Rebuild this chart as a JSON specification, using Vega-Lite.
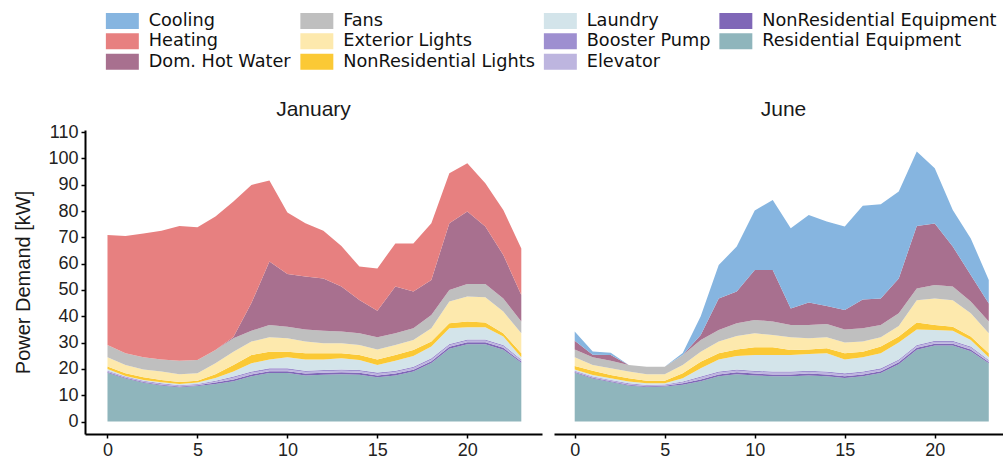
{
  "$schema": "https://vega.github.io/schema/vega-lite/v6.json",
  "autosize": {"type": "pad"},
  "padding": {"left": 13, "top": 12, "right": 0, "bottom": 3},
  "background": "white",
  "data": {"values": [
{"month":"January","hour":0,"cat":"Residential Equipment","kW":18.5},{"month":"January","hour":0,"cat":"NonResidential Equipment","kW":0.3},{"month":"January","hour":0,"cat":"Elevator","kW":0.2},{"month":"January","hour":0,"cat":"Booster Pump","kW":0.3},{"month":"January","hour":0,"cat":"Laundry","kW":0.7},{"month":"January","hour":0,"cat":"NonResidential Lights","kW":0.9},{"month":"January","hour":0,"cat":"Exterior Lights","kW":3.5},{"month":"January","hour":0,"cat":"Fans","kW":4.7},{"month":"January","hour":0,"cat":"Dom. Hot Water","kW":0},{"month":"January","hour":0,"cat":"Heating","kW":41.8},
{"month":"January","hour":1,"cat":"Residential Equipment","kW":16.3},{"month":"January","hour":1,"cat":"NonResidential Equipment","kW":0.3},{"month":"January","hour":1,"cat":"Elevator","kW":0.2},{"month":"January","hour":1,"cat":"Booster Pump","kW":0.3},{"month":"January","hour":1,"cat":"Laundry","kW":0.2},{"month":"January","hour":1,"cat":"NonResidential Lights","kW":1.0},{"month":"January","hour":1,"cat":"Exterior Lights","kW":3.2},{"month":"January","hour":1,"cat":"Fans","kW":4.4},{"month":"January","hour":1,"cat":"Dom. Hot Water","kW":0},{"month":"January","hour":1,"cat":"Heating","kW":44.6},
{"month":"January","hour":2,"cat":"Residential Equipment","kW":14.7},{"month":"January","hour":2,"cat":"NonResidential Equipment","kW":0.3},{"month":"January","hour":2,"cat":"Elevator","kW":0.2},{"month":"January","hour":2,"cat":"Booster Pump","kW":0.3},{"month":"January","hour":2,"cat":"Laundry","kW":0.3},{"month":"January","hour":2,"cat":"NonResidential Lights","kW":1.0},{"month":"January","hour":2,"cat":"Exterior Lights","kW":3.0},{"month":"January","hour":2,"cat":"Fans","kW":4.6},{"month":"January","hour":2,"cat":"Dom. Hot Water","kW":0},{"month":"January","hour":2,"cat":"Heating","kW":47.1},
{"month":"January","hour":3,"cat":"Residential Equipment","kW":13.7},{"month":"January","hour":3,"cat":"NonResidential Equipment","kW":0.3},{"month":"January","hour":3,"cat":"Elevator","kW":0.2},{"month":"January","hour":3,"cat":"Booster Pump","kW":0.3},{"month":"January","hour":3,"cat":"Laundry","kW":0.4},{"month":"January","hour":3,"cat":"NonResidential Lights","kW":0.9},{"month":"January","hour":3,"cat":"Exterior Lights","kW":3.2},{"month":"January","hour":3,"cat":"Fans","kW":4.6},{"month":"January","hour":3,"cat":"Dom. Hot Water","kW":0},{"month":"January","hour":3,"cat":"Heating","kW":48.9},
{"month":"January","hour":4,"cat":"Residential Equipment","kW":13.0},{"month":"January","hour":4,"cat":"NonResidential Equipment","kW":0.3},{"month":"January","hour":4,"cat":"Elevator","kW":0.2},{"month":"January","hour":4,"cat":"Booster Pump","kW":0.3},{"month":"January","hour":4,"cat":"Laundry","kW":0.5},{"month":"January","hour":4,"cat":"NonResidential Lights","kW":0.7},{"month":"January","hour":4,"cat":"Exterior Lights","kW":3.0},{"month":"January","hour":4,"cat":"Fans","kW":5.1},{"month":"January","hour":4,"cat":"Dom. Hot Water","kW":0},{"month":"January","hour":4,"cat":"Heating","kW":51.2},
{"month":"January","hour":5,"cat":"Residential Equipment","kW":13.5},{"month":"January","hour":5,"cat":"NonResidential Equipment","kW":0.3},{"month":"January","hour":5,"cat":"Elevator","kW":0.2},{"month":"January","hour":5,"cat":"Booster Pump","kW":0.3},{"month":"January","hour":5,"cat":"Laundry","kW":0.5},{"month":"January","hour":5,"cat":"NonResidential Lights","kW":0.7},{"month":"January","hour":5,"cat":"Exterior Lights","kW":2.8},{"month":"January","hour":5,"cat":"Fans","kW":5.1},{"month":"January","hour":5,"cat":"Dom. Hot Water","kW":0},{"month":"January","hour":5,"cat":"Heating","kW":50.4},
{"month":"January","hour":6,"cat":"Residential Equipment","kW":14.3},{"month":"January","hour":6,"cat":"NonResidential Equipment","kW":0.5},{"month":"January","hour":6,"cat":"Elevator","kW":0.3},{"month":"January","hour":6,"cat":"Booster Pump","kW":0.4},{"month":"January","hour":6,"cat":"Laundry","kW":1.0},{"month":"January","hour":6,"cat":"NonResidential Lights","kW":1.5},{"month":"January","hour":6,"cat":"Exterior Lights","kW":4.1},{"month":"January","hour":6,"cat":"Fans","kW":5.1},{"month":"January","hour":6,"cat":"Dom. Hot Water","kW":0},{"month":"January","hour":6,"cat":"Heating","kW":50.7},
{"month":"January","hour":7,"cat":"Residential Equipment","kW":15.3},{"month":"January","hour":7,"cat":"NonResidential Equipment","kW":0.7},{"month":"January","hour":7,"cat":"Elevator","kW":0.6},{"month":"January","hour":7,"cat":"Booster Pump","kW":0.5},{"month":"January","hour":7,"cat":"Laundry","kW":1.9},{"month":"January","hour":7,"cat":"NonResidential Lights","kW":2.5},{"month":"January","hour":7,"cat":"Exterior Lights","kW":5.0},{"month":"January","hour":7,"cat":"Fans","kW":5.1},{"month":"January","hour":7,"cat":"Dom. Hot Water","kW":0.5},{"month":"January","hour":7,"cat":"Heating","kW":51.5},
{"month":"January","hour":8,"cat":"Residential Equipment","kW":17.2},{"month":"January","hour":8,"cat":"NonResidential Equipment","kW":0.7},{"month":"January","hour":8,"cat":"Elevator","kW":0.6},{"month":"January","hour":8,"cat":"Booster Pump","kW":0.5},{"month":"January","hour":8,"cat":"Laundry","kW":3.1},{"month":"January","hour":8,"cat":"NonResidential Lights","kW":3.2},{"month":"January","hour":8,"cat":"Exterior Lights","kW":5.1},{"month":"January","hour":8,"cat":"Fans","kW":4.1},{"month":"January","hour":8,"cat":"Dom. Hot Water","kW":10.5},{"month":"January","hour":8,"cat":"Heating","kW":44.9},
{"month":"January","hour":9,"cat":"Residential Equipment","kW":18.4},{"month":"January","hour":9,"cat":"NonResidential Equipment","kW":0.7},{"month":"January","hour":9,"cat":"Elevator","kW":0.6},{"month":"January","hour":9,"cat":"Booster Pump","kW":0.5},{"month":"January","hour":9,"cat":"Laundry","kW":3.4},{"month":"January","hour":9,"cat":"NonResidential Lights","kW":2.9},{"month":"January","hour":9,"cat":"Exterior Lights","kW":5.5},{"month":"January","hour":9,"cat":"Fans","kW":4.7},{"month":"January","hour":9,"cat":"Dom. Hot Water","kW":24.1},{"month":"January","hour":9,"cat":"Heating","kW":30.8},
{"month":"January","hour":10,"cat":"Residential Equipment","kW":18.4},{"month":"January","hour":10,"cat":"NonResidential Equipment","kW":0.7},{"month":"January","hour":10,"cat":"Elevator","kW":0.6},{"month":"January","hour":10,"cat":"Booster Pump","kW":0.5},{"month":"January","hour":10,"cat":"Laundry","kW":4.2},{"month":"January","hour":10,"cat":"NonResidential Lights","kW":2.1},{"month":"January","hour":10,"cat":"Exterior Lights","kW":5.1},{"month":"January","hour":10,"cat":"Fans","kW":4.4},{"month":"January","hour":10,"cat":"Dom. Hot Water","kW":20.1},{"month":"January","hour":10,"cat":"Heating","kW":23.3},
{"month":"January","hour":11,"cat":"Residential Equipment","kW":17.5},{"month":"January","hour":11,"cat":"NonResidential Equipment","kW":0.7},{"month":"January","hour":11,"cat":"Elevator","kW":0.6},{"month":"January","hour":11,"cat":"Booster Pump","kW":0.5},{"month":"January","hour":11,"cat":"Laundry","kW":4.3},{"month":"January","hour":11,"cat":"NonResidential Lights","kW":2.3},{"month":"January","hour":11,"cat":"Exterior Lights","kW":4.5},{"month":"January","hour":11,"cat":"Fans","kW":4.6},{"month":"January","hour":11,"cat":"Dom. Hot Water","kW":20.1},{"month":"January","hour":11,"cat":"Heating","kW":20.3},
{"month":"January","hour":12,"cat":"Residential Equipment","kW":17.8},{"month":"January","hour":12,"cat":"NonResidential Equipment","kW":0.7},{"month":"January","hour":12,"cat":"Elevator","kW":0.6},{"month":"January","hour":12,"cat":"Booster Pump","kW":0.5},{"month":"January","hour":12,"cat":"Laundry","kW":4.0},{"month":"January","hour":12,"cat":"NonResidential Lights","kW":2.3},{"month":"January","hour":12,"cat":"Exterior Lights","kW":3.8},{"month":"January","hour":12,"cat":"Fans","kW":4.8},{"month":"January","hour":12,"cat":"Dom. Hot Water","kW":19.9},{"month":"January","hour":12,"cat":"Heating","kW":18.1},
{"month":"January","hour":13,"cat":"Residential Equipment","kW":18.0},{"month":"January","hour":13,"cat":"NonResidential Equipment","kW":0.7},{"month":"January","hour":13,"cat":"Elevator","kW":0.6},{"month":"January","hour":13,"cat":"Booster Pump","kW":0.5},{"month":"January","hour":13,"cat":"Laundry","kW":4.2},{"month":"January","hour":13,"cat":"NonResidential Lights","kW":1.9},{"month":"January","hour":13,"cat":"Exterior Lights","kW":3.8},{"month":"January","hour":13,"cat":"Fans","kW":4.5},{"month":"January","hour":13,"cat":"Dom. Hot Water","kW":17.1},{"month":"January","hour":13,"cat":"Heating","kW":15.4},
{"month":"January","hour":14,"cat":"Residential Equipment","kW":17.8},{"month":"January","hour":14,"cat":"NonResidential Equipment","kW":0.7},{"month":"January","hour":14,"cat":"Elevator","kW":0.6},{"month":"January","hour":14,"cat":"Booster Pump","kW":0.5},{"month":"January","hour":14,"cat":"Laundry","kW":3.8},{"month":"January","hour":14,"cat":"NonResidential Lights","kW":1.9},{"month":"January","hour":14,"cat":"Exterior Lights","kW":3.8},{"month":"January","hour":14,"cat":"Fans","kW":4.4},{"month":"January","hour":14,"cat":"Dom. Hot Water","kW":12.7},{"month":"January","hour":14,"cat":"Heating","kW":12.7},
{"month":"January","hour":15,"cat":"Residential Equipment","kW":16.8},{"month":"January","hour":15,"cat":"NonResidential Equipment","kW":0.7},{"month":"January","hour":15,"cat":"Elevator","kW":0.6},{"month":"January","hour":15,"cat":"Booster Pump","kW":0.5},{"month":"January","hour":15,"cat":"Laundry","kW":2.9},{"month":"January","hour":15,"cat":"NonResidential Lights","kW":2.1},{"month":"January","hour":15,"cat":"Exterior Lights","kW":3.8},{"month":"January","hour":15,"cat":"Fans","kW":4.6},{"month":"January","hour":15,"cat":"Dom. Hot Water","kW":10.1},{"month":"January","hour":15,"cat":"Heating","kW":16.1},
{"month":"January","hour":16,"cat":"Residential Equipment","kW":17.5},{"month":"January","hour":16,"cat":"NonResidential Equipment","kW":0.7},{"month":"January","hour":16,"cat":"Elevator","kW":0.6},{"month":"January","hour":16,"cat":"Booster Pump","kW":0.5},{"month":"January","hour":16,"cat":"Laundry","kW":3.8},{"month":"January","hour":16,"cat":"NonResidential Lights","kW":2.2},{"month":"January","hour":16,"cat":"Exterior Lights","kW":3.8},{"month":"January","hour":16,"cat":"Fans","kW":4.4},{"month":"January","hour":16,"cat":"Dom. Hot Water","kW":17.8},{"month":"January","hour":16,"cat":"Heating","kW":16.4},
{"month":"January","hour":17,"cat":"Residential Equipment","kW":19.0},{"month":"January","hour":17,"cat":"NonResidential Equipment","kW":0.7},{"month":"January","hour":17,"cat":"Elevator","kW":0.6},{"month":"January","hour":17,"cat":"Booster Pump","kW":0.5},{"month":"January","hour":17,"cat":"Laundry","kW":4.1},{"month":"January","hour":17,"cat":"NonResidential Lights","kW":2.3},{"month":"January","hour":17,"cat":"Exterior Lights","kW":3.8},{"month":"January","hour":17,"cat":"Fans","kW":4.4},{"month":"January","hour":17,"cat":"Dom. Hot Water","kW":14.0},{"month":"January","hour":17,"cat":"Heating","kW":18.3},
{"month":"January","hour":18,"cat":"Residential Equipment","kW":22.2},{"month":"January","hour":18,"cat":"NonResidential Equipment","kW":0.7},{"month":"January","hour":18,"cat":"Elevator","kW":0.6},{"month":"January","hour":18,"cat":"Booster Pump","kW":0.5},{"month":"January","hour":18,"cat":"Laundry","kW":4.5},{"month":"January","hour":18,"cat":"NonResidential Lights","kW":1.9},{"month":"January","hour":18,"cat":"Exterior Lights","kW":5.0},{"month":"January","hour":18,"cat":"Fans","kW":5.1},{"month":"January","hour":18,"cat":"Dom. Hot Water","kW":13.3},{"month":"January","hour":18,"cat":"Heating","kW":21.6},
{"month":"January","hour":19,"cat":"Residential Equipment","kW":27.7},{"month":"January","hour":19,"cat":"NonResidential Equipment","kW":0.7},{"month":"January","hour":19,"cat":"Elevator","kW":0.6},{"month":"January","hour":19,"cat":"Booster Pump","kW":0.5},{"month":"January","hour":19,"cat":"Laundry","kW":5.9},{"month":"January","hour":19,"cat":"NonResidential Lights","kW":1.9},{"month":"January","hour":19,"cat":"Exterior Lights","kW":8.3},{"month":"January","hour":19,"cat":"Fans","kW":4.4},{"month":"January","hour":19,"cat":"Dom. Hot Water","kW":25.4},{"month":"January","hour":19,"cat":"Heating","kW":19.0},
{"month":"January","hour":20,"cat":"Residential Equipment","kW":29.4},{"month":"January","hour":20,"cat":"NonResidential Equipment","kW":0.7},{"month":"January","hour":20,"cat":"Elevator","kW":0.6},{"month":"January","hour":20,"cat":"Booster Pump","kW":0.5},{"month":"January","hour":20,"cat":"Laundry","kW":4.6},{"month":"January","hour":20,"cat":"NonResidential Lights","kW":2.2},{"month":"January","hour":20,"cat":"Exterior Lights","kW":9.5},{"month":"January","hour":20,"cat":"Fans","kW":4.8},{"month":"January","hour":20,"cat":"Dom. Hot Water","kW":27.5},{"month":"January","hour":20,"cat":"Heating","kW":18.4},
{"month":"January","hour":21,"cat":"Residential Equipment","kW":29.4},{"month":"January","hour":21,"cat":"NonResidential Equipment","kW":0.7},{"month":"January","hour":21,"cat":"Elevator","kW":0.6},{"month":"January","hour":21,"cat":"Booster Pump","kW":0.5},{"month":"January","hour":21,"cat":"Laundry","kW":4.6},{"month":"January","hour":21,"cat":"NonResidential Lights","kW":1.8},{"month":"January","hour":21,"cat":"Exterior Lights","kW":9.6},{"month":"January","hour":21,"cat":"Fans","kW":5.1},{"month":"January","hour":21,"cat":"Dom. Hot Water","kW":21.8},{"month":"January","hour":21,"cat":"Heating","kW":16.5},
{"month":"January","hour":22,"cat":"Residential Equipment","kW":27.3},{"month":"January","hour":22,"cat":"NonResidential Equipment","kW":0.7},{"month":"January","hour":22,"cat":"Elevator","kW":0.6},{"month":"January","hour":22,"cat":"Booster Pump","kW":0.5},{"month":"January","hour":22,"cat":"Laundry","kW":3.2},{"month":"January","hour":22,"cat":"NonResidential Lights","kW":1.2},{"month":"January","hour":22,"cat":"Exterior Lights","kW":8.3},{"month":"January","hour":22,"cat":"Fans","kW":5.0},{"month":"January","hour":22,"cat":"Dom. Hot Water","kW":16.5},{"month":"January","hour":22,"cat":"Heating","kW":17.1},
{"month":"January","hour":23,"cat":"Residential Equipment","kW":22.3},{"month":"January","hour":23,"cat":"NonResidential Equipment","kW":0.5},{"month":"January","hour":23,"cat":"Elevator","kW":0.4},{"month":"January","hour":23,"cat":"Booster Pump","kW":0.4},{"month":"January","hour":23,"cat":"Laundry","kW":0.8},{"month":"January","hour":23,"cat":"NonResidential Lights","kW":1.5},{"month":"January","hour":23,"cat":"Exterior Lights","kW":7.6},{"month":"January","hour":23,"cat":"Fans","kW":4.5},{"month":"January","hour":23,"cat":"Dom. Hot Water","kW":10.1},{"month":"January","hour":23,"cat":"Heating","kW":17.7},
{"month":"June","hour":0,"cat":"Residential Equipment","kW":18.5},{"month":"June","hour":0,"cat":"NonResidential Equipment","kW":0.3},{"month":"June","hour":0,"cat":"Elevator","kW":0.2},{"month":"June","hour":0,"cat":"Booster Pump","kW":0.3},{"month":"June","hour":0,"cat":"Laundry","kW":0.5},{"month":"June","hour":0,"cat":"NonResidential Lights","kW":1.3},{"month":"June","hour":0,"cat":"Exterior Lights","kW":3.3},{"month":"June","hour":0,"cat":"Fans","kW":3.0},{"month":"June","hour":0,"cat":"Dom. Hot Water","kW":3.3},{"month":"June","hour":0,"cat":"Cooling","kW":3.5},
{"month":"June","hour":1,"cat":"Residential Equipment","kW":16.3},{"month":"June","hour":1,"cat":"NonResidential Equipment","kW":0.3},{"month":"June","hour":1,"cat":"Elevator","kW":0.2},{"month":"June","hour":1,"cat":"Booster Pump","kW":0.3},{"month":"June","hour":1,"cat":"Laundry","kW":0.6},{"month":"June","hour":1,"cat":"NonResidential Lights","kW":1.6},{"month":"June","hour":1,"cat":"Exterior Lights","kW":2.2},{"month":"June","hour":1,"cat":"Fans","kW":2.9},{"month":"June","hour":1,"cat":"Dom. Hot Water","kW":1.0},{"month":"June","hour":1,"cat":"Cooling","kW":1.2},
{"month":"June","hour":2,"cat":"Residential Equipment","kW":15.0},{"month":"June","hour":2,"cat":"NonResidential Equipment","kW":0.3},{"month":"June","hour":2,"cat":"Elevator","kW":0.2},{"month":"June","hour":2,"cat":"Booster Pump","kW":0.3},{"month":"June","hour":2,"cat":"Laundry","kW":0.6},{"month":"June","hour":2,"cat":"NonResidential Lights","kW":1.3},{"month":"June","hour":2,"cat":"Exterior Lights","kW":2.5},{"month":"June","hour":2,"cat":"Fans","kW":2.9},{"month":"June","hour":2,"cat":"Dom. Hot Water","kW":2.2},{"month":"June","hour":2,"cat":"Cooling","kW":0.8},
{"month":"June","hour":3,"cat":"Residential Equipment","kW":13.7},{"month":"June","hour":3,"cat":"NonResidential Equipment","kW":0.3},{"month":"June","hour":3,"cat":"Elevator","kW":0.2},{"month":"June","hour":3,"cat":"Booster Pump","kW":0.3},{"month":"June","hour":3,"cat":"Laundry","kW":0.7},{"month":"June","hour":3,"cat":"NonResidential Lights","kW":1.2},{"month":"June","hour":3,"cat":"Exterior Lights","kW":2.6},{"month":"June","hour":3,"cat":"Fans","kW":2.5},{"month":"June","hour":3,"cat":"Dom. Hot Water","kW":0},{"month":"June","hour":3,"cat":"Cooling","kW":0},
{"month":"June","hour":4,"cat":"Residential Equipment","kW":13.1},{"month":"June","hour":4,"cat":"NonResidential Equipment","kW":0.3},{"month":"June","hour":4,"cat":"Elevator","kW":0.2},{"month":"June","hour":4,"cat":"Booster Pump","kW":0.3},{"month":"June","hour":4,"cat":"Laundry","kW":0.6},{"month":"June","hour":4,"cat":"NonResidential Lights","kW":1.0},{"month":"June","hour":4,"cat":"Exterior Lights","kW":2.5},{"month":"June","hour":4,"cat":"Fans","kW":2.8},{"month":"June","hour":4,"cat":"Dom. Hot Water","kW":0},{"month":"June","hour":4,"cat":"Cooling","kW":0},
{"month":"June","hour":5,"cat":"Residential Equipment","kW":13.3},{"month":"June","hour":5,"cat":"NonResidential Equipment","kW":0.3},{"month":"June","hour":5,"cat":"Elevator","kW":0.2},{"month":"June","hour":5,"cat":"Booster Pump","kW":0.3},{"month":"June","hour":5,"cat":"Laundry","kW":0.4},{"month":"June","hour":5,"cat":"NonResidential Lights","kW":1.0},{"month":"June","hour":5,"cat":"Exterior Lights","kW":2.5},{"month":"June","hour":5,"cat":"Fans","kW":2.8},{"month":"June","hour":5,"cat":"Dom. Hot Water","kW":0},{"month":"June","hour":5,"cat":"Cooling","kW":0},
{"month":"June","hour":6,"cat":"Residential Equipment","kW":14.0},{"month":"June","hour":6,"cat":"NonResidential Equipment","kW":0.5},{"month":"June","hour":6,"cat":"Elevator","kW":0.3},{"month":"June","hour":6,"cat":"Booster Pump","kW":0.4},{"month":"June","hour":6,"cat":"Laundry","kW":1.2},{"month":"June","hour":6,"cat":"NonResidential Lights","kW":1.9},{"month":"June","hour":6,"cat":"Exterior Lights","kW":3.2},{"month":"June","hour":6,"cat":"Fans","kW":3.8},{"month":"June","hour":6,"cat":"Dom. Hot Water","kW":0},{"month":"June","hour":6,"cat":"Cooling","kW":0.7},
{"month":"June","hour":7,"cat":"Residential Equipment","kW":15.3},{"month":"June","hour":7,"cat":"NonResidential Equipment","kW":0.7},{"month":"June","hour":7,"cat":"Elevator","kW":0.6},{"month":"June","hour":7,"cat":"Booster Pump","kW":0.5},{"month":"June","hour":7,"cat":"Laundry","kW":3.1},{"month":"June","hour":7,"cat":"NonResidential Lights","kW":2.5},{"month":"June","hour":7,"cat":"Exterior Lights","kW":3.8},{"month":"June","hour":7,"cat":"Fans","kW":4.5},{"month":"June","hour":7,"cat":"Dom. Hot Water","kW":1.9},{"month":"June","hour":7,"cat":"Cooling","kW":7.1},
{"month":"June","hour":8,"cat":"Residential Equipment","kW":17.2},{"month":"June","hour":8,"cat":"NonResidential Equipment","kW":0.7},{"month":"June","hour":8,"cat":"Elevator","kW":0.6},{"month":"June","hour":8,"cat":"Booster Pump","kW":0.5},{"month":"June","hour":8,"cat":"Laundry","kW":4.6},{"month":"June","hour":8,"cat":"NonResidential Lights","kW":2.3},{"month":"June","hour":8,"cat":"Exterior Lights","kW":4.5},{"month":"June","hour":8,"cat":"Fans","kW":4.4},{"month":"June","hour":8,"cat":"Dom. Hot Water","kW":12.0},{"month":"June","hour":8,"cat":"Cooling","kW":12.7},
{"month":"June","hour":9,"cat":"Residential Equipment","kW":18.0},{"month":"June","hour":9,"cat":"NonResidential Equipment","kW":0.7},{"month":"June","hour":9,"cat":"Elevator","kW":0.6},{"month":"June","hour":9,"cat":"Booster Pump","kW":0.5},{"month":"June","hour":9,"cat":"Laundry","kW":5.1},{"month":"June","hour":9,"cat":"NonResidential Lights","kW":2.5},{"month":"June","hour":9,"cat":"Exterior Lights","kW":5.1},{"month":"June","hour":9,"cat":"Fans","kW":4.8},{"month":"June","hour":9,"cat":"Dom. Hot Water","kW":12.1},{"month":"June","hour":9,"cat":"Cooling","kW":17.1},
{"month":"June","hour":10,"cat":"Residential Equipment","kW":17.5},{"month":"June","hour":10,"cat":"NonResidential Equipment","kW":0.7},{"month":"June","hour":10,"cat":"Elevator","kW":0.6},{"month":"June","hour":10,"cat":"Booster Pump","kW":0.5},{"month":"June","hour":10,"cat":"Laundry","kW":6.0},{"month":"June","hour":10,"cat":"NonResidential Lights","kW":2.9},{"month":"June","hour":10,"cat":"Exterior Lights","kW":5.3},{"month":"June","hour":10,"cat":"Fans","kW":5.1},{"month":"June","hour":10,"cat":"Dom. Hot Water","kW":19.0},{"month":"June","hour":10,"cat":"Cooling","kW":22.6},
{"month":"June","hour":11,"cat":"Residential Equipment","kW":17.2},{"month":"June","hour":11,"cat":"NonResidential Equipment","kW":0.7},{"month":"June","hour":11,"cat":"Elevator","kW":0.6},{"month":"June","hour":11,"cat":"Booster Pump","kW":0.5},{"month":"June","hour":11,"cat":"Laundry","kW":6.3},{"month":"June","hour":11,"cat":"NonResidential Lights","kW":2.9},{"month":"June","hour":11,"cat":"Exterior Lights","kW":4.7},{"month":"June","hour":11,"cat":"Fans","kW":5.1},{"month":"June","hour":11,"cat":"Dom. Hot Water","kW":19.6},{"month":"June","hour":11,"cat":"Cooling","kW":26.6},
{"month":"June","hour":12,"cat":"Residential Equipment","kW":17.2},{"month":"June","hour":12,"cat":"NonResidential Equipment","kW":0.7},{"month":"June","hour":12,"cat":"Elevator","kW":0.6},{"month":"June","hour":12,"cat":"Booster Pump","kW":0.5},{"month":"June","hour":12,"cat":"Laundry","kW":6.3},{"month":"June","hour":12,"cat":"NonResidential Lights","kW":1.9},{"month":"June","hour":12,"cat":"Exterior Lights","kW":4.8},{"month":"June","hour":12,"cat":"Fans","kW":4.7},{"month":"June","hour":12,"cat":"Dom. Hot Water","kW":6.3},{"month":"June","hour":12,"cat":"Cooling","kW":30.5},
{"month":"June","hour":13,"cat":"Residential Equipment","kW":17.5},{"month":"June","hour":13,"cat":"NonResidential Equipment","kW":0.7},{"month":"June","hour":13,"cat":"Elevator","kW":0.6},{"month":"June","hour":13,"cat":"Booster Pump","kW":0.5},{"month":"June","hour":13,"cat":"Laundry","kW":6.4},{"month":"June","hour":13,"cat":"NonResidential Lights","kW":1.7},{"month":"June","hour":13,"cat":"Exterior Lights","kW":4.2},{"month":"June","hour":13,"cat":"Fans","kW":5.1},{"month":"June","hour":13,"cat":"Dom. Hot Water","kW":8.5},{"month":"June","hour":13,"cat":"Cooling","kW":33.3},
{"month":"June","hour":14,"cat":"Residential Equipment","kW":17.2},{"month":"June","hour":14,"cat":"NonResidential Equipment","kW":0.7},{"month":"June","hour":14,"cat":"Elevator","kW":0.6},{"month":"June","hour":14,"cat":"Booster Pump","kW":0.5},{"month":"June","hour":14,"cat":"Laundry","kW":6.9},{"month":"June","hour":14,"cat":"NonResidential Lights","kW":1.9},{"month":"June","hour":14,"cat":"Exterior Lights","kW":4.2},{"month":"June","hour":14,"cat":"Fans","kW":5.1},{"month":"June","hour":14,"cat":"Dom. Hot Water","kW":6.8},{"month":"June","hour":14,"cat":"Cooling","kW":32.1},
{"month":"June","hour":15,"cat":"Residential Equipment","kW":16.5},{"month":"June","hour":15,"cat":"NonResidential Equipment","kW":0.7},{"month":"June","hour":15,"cat":"Elevator","kW":0.6},{"month":"June","hour":15,"cat":"Booster Pump","kW":0.5},{"month":"June","hour":15,"cat":"Laundry","kW":5.3},{"month":"June","hour":15,"cat":"NonResidential Lights","kW":2.3},{"month":"June","hour":15,"cat":"Exterior Lights","kW":4.1},{"month":"June","hour":15,"cat":"Fans","kW":5.0},{"month":"June","hour":15,"cat":"Dom. Hot Water","kW":7.4},{"month":"June","hour":15,"cat":"Cooling","kW":31.7},
{"month":"June","hour":16,"cat":"Residential Equipment","kW":17.2},{"month":"June","hour":16,"cat":"NonResidential Equipment","kW":0.7},{"month":"June","hour":16,"cat":"Elevator","kW":0.6},{"month":"June","hour":16,"cat":"Booster Pump","kW":0.5},{"month":"June","hour":16,"cat":"Laundry","kW":5.4},{"month":"June","hour":16,"cat":"NonResidential Lights","kW":2.1},{"month":"June","hour":16,"cat":"Exterior Lights","kW":3.9},{"month":"June","hour":16,"cat":"Fans","kW":5.0},{"month":"June","hour":16,"cat":"Dom. Hot Water","kW":11.0},{"month":"June","hour":16,"cat":"Cooling","kW":35.6},
{"month":"June","hour":17,"cat":"Residential Equipment","kW":18.4},{"month":"June","hour":17,"cat":"NonResidential Equipment","kW":0.7},{"month":"June","hour":17,"cat":"Elevator","kW":0.6},{"month":"June","hour":17,"cat":"Booster Pump","kW":0.5},{"month":"June","hour":17,"cat":"Laundry","kW":5.7},{"month":"June","hour":17,"cat":"NonResidential Lights","kW":2.6},{"month":"June","hour":17,"cat":"Exterior Lights","kW":3.5},{"month":"June","hour":17,"cat":"Fans","kW":4.7},{"month":"June","hour":17,"cat":"Dom. Hot Water","kW":10.1},{"month":"June","hour":17,"cat":"Cooling","kW":35.8},
{"month":"June","hour":18,"cat":"Residential Equipment","kW":21.8},{"month":"June","hour":18,"cat":"NonResidential Equipment","kW":0.7},{"month":"June","hour":18,"cat":"Elevator","kW":0.6},{"month":"June","hour":18,"cat":"Booster Pump","kW":0.5},{"month":"June","hour":18,"cat":"Laundry","kW":6.4},{"month":"June","hour":18,"cat":"NonResidential Lights","kW":2.3},{"month":"June","hour":18,"cat":"Exterior Lights","kW":4.0},{"month":"June","hour":18,"cat":"Fans","kW":4.8},{"month":"June","hour":18,"cat":"Dom. Hot Water","kW":13.3},{"month":"June","hour":18,"cat":"Cooling","kW":33.0},
{"month":"June","hour":19,"cat":"Residential Equipment","kW":27.3},{"month":"June","hour":19,"cat":"NonResidential Equipment","kW":0.7},{"month":"June","hour":19,"cat":"Elevator","kW":0.6},{"month":"June","hour":19,"cat":"Booster Pump","kW":0.5},{"month":"June","hour":19,"cat":"Laundry","kW":5.9},{"month":"June","hour":19,"cat":"NonResidential Lights","kW":2.6},{"month":"June","hour":19,"cat":"Exterior Lights","kW":8.5},{"month":"June","hour":19,"cat":"Fans","kW":4.5},{"month":"June","hour":19,"cat":"Dom. Hot Water","kW":23.7},{"month":"June","hour":19,"cat":"Cooling","kW":28.3},
{"month":"June","hour":20,"cat":"Residential Equipment","kW":28.9},{"month":"June","hour":20,"cat":"NonResidential Equipment","kW":0.7},{"month":"June","hour":20,"cat":"Elevator","kW":0.6},{"month":"June","hour":20,"cat":"Booster Pump","kW":0.5},{"month":"June","hour":20,"cat":"Laundry","kW":4.1},{"month":"June","hour":20,"cat":"NonResidential Lights","kW":1.9},{"month":"June","hour":20,"cat":"Exterior Lights","kW":10.1},{"month":"June","hour":20,"cat":"Fans","kW":5.1},{"month":"June","hour":20,"cat":"Dom. Hot Water","kW":23.4},{"month":"June","hour":20,"cat":"Cooling","kW":21.0},
{"month":"June","hour":21,"cat":"Residential Equipment","kW":28.9},{"month":"June","hour":21,"cat":"NonResidential Equipment","kW":0.7},{"month":"June","hour":21,"cat":"Elevator","kW":0.6},{"month":"June","hour":21,"cat":"Booster Pump","kW":0.5},{"month":"June","hour":21,"cat":"Laundry","kW":3.8},{"month":"June","hour":21,"cat":"NonResidential Lights","kW":1.5},{"month":"June","hour":21,"cat":"Exterior Lights","kW":10.1},{"month":"June","hour":21,"cat":"Fans","kW":5.2},{"month":"June","hour":21,"cat":"Dom. Hot Water","kW":15.2},{"month":"June","hour":21,"cat":"Cooling","kW":13.9},
{"month":"June","hour":22,"cat":"Residential Equipment","kW":26.7},{"month":"June","hour":22,"cat":"NonResidential Equipment","kW":0.7},{"month":"June","hour":22,"cat":"Elevator","kW":0.6},{"month":"June","hour":22,"cat":"Booster Pump","kW":0.5},{"month":"June","hour":22,"cat":"Laundry","kW":2.5},{"month":"June","hour":22,"cat":"NonResidential Lights","kW":1.3},{"month":"June","hour":22,"cat":"Exterior Lights","kW":8.8},{"month":"June","hour":22,"cat":"Fans","kW":4.5},{"month":"June","hour":22,"cat":"Dom. Hot Water","kW":10.1},{"month":"June","hour":22,"cat":"Cooling","kW":13.9},
{"month":"June","hour":23,"cat":"Residential Equipment","kW":22.1},{"month":"June","hour":23,"cat":"NonResidential Equipment","kW":0.5},{"month":"June","hour":23,"cat":"Elevator","kW":0.4},{"month":"June","hour":23,"cat":"Booster Pump","kW":0.4},{"month":"June","hour":23,"cat":"Laundry","kW":1.0},{"month":"June","hour":23,"cat":"NonResidential Lights","kW":1.5},{"month":"June","hour":23,"cat":"Exterior Lights","kW":7.6},{"month":"June","hour":23,"cat":"Fans","kW":4.5},{"month":"June","hour":23,"cat":"Dom. Hot Water","kW":6.9},{"month":"June","hour":23,"cat":"Cooling","kW":8.9}
  ]},
  "transform": [
    {"calculate": "indexof(['Residential Equipment','NonResidential Equipment','Elevator','Booster Pump','Laundry','NonResidential Lights','Exterior Lights','Fans','Dom. Hot Water','Heating','Cooling'], datum.cat)", "as": "stackRank"}
  ],
  "spacing": 12,
  "hconcat": [
    {
      "width": 457,
      "height": 304,
      "title": {"text": "January", "anchor": "middle", "fontSize": 21, "font": "Liberation Sans", "fontWeight": "normal", "color": "#1a1a1a", "offset": 3},
      "transform": [{"filter": "datum.month === 'January'"}],
      "mark": {"type": "area", "interpolate": "linear"},
      "encoding": {
        "x": {"field": "hour", "type": "quantitative", "scale": {"domain": [-1.25, 24.15], "nice": false, "zero": false}, "axis": {"values": [0, 5, 10, 15, 20], "title": null}},
        "y": {"field": "kW", "type": "quantitative", "stack": "zero", "scale": {"domain": [-4.75, 110.8], "nice": false, "zero": false}, "axis": {"values": [0, 10, 20, 30, 40, 50, 60, 70, 80, 90, 100, 110], "title": "Power Demand [kW]"}},
        "color": {"field": "cat", "type": "nominal", "scale": {"domain": ["Cooling", "Heating", "Dom. Hot Water", "Fans", "Exterior Lights", "NonResidential Lights", "Laundry", "Booster Pump", "Elevator", "NonResidential Equipment", "Residential Equipment"], "range": ["#86B5E0", "#E78080", "#A8708F", "#BFBFBF", "#FDE9AD", "#FBC935", "#D3E4EA", "#9E8FD0", "#BDB5DF", "#7F67B7", "#8FB5BC"]}},
        "order": {"field": "stackRank", "type": "quantitative", "sort": "ascending"}
      }
    },
    {
      "width": 449,
      "height": 304,
      "title": {"text": "June", "anchor": "middle", "fontSize": 21, "font": "Liberation Sans", "fontWeight": "normal", "color": "#1a1a1a", "offset": 10, "dx": 5},
      "transform": [{"filter": "datum.month === 'June'"}],
      "mark": {"type": "area", "interpolate": "linear"},
      "encoding": {
        "x": {"field": "hour", "type": "quantitative", "scale": {"domain": [-1.15, 23.79], "nice": false, "zero": false}, "axis": {"values": [0, 5, 10, 15, 20], "title": null}},
        "y": {"field": "kW", "type": "quantitative", "stack": "zero", "scale": {"domain": [-4.75, 110.8], "nice": false, "zero": false}, "axis": null},
        "color": {"field": "cat", "type": "nominal"},
        "order": {"field": "stackRank", "type": "quantitative", "sort": "ascending"}
      }
    }
  ],
  "resolve": {"scale": {"color": "shared"}},
  "config": {
    "view": {"stroke": null},
    "font": "Liberation Sans",
    "axis": {
      "grid": false,
      "domainColor": "#000000",
      "domainWidth": 2,
      "tickColor": "#000000",
      "tickWidth": 1.5,
      "tickSize": 4,
      "labelFont": "Liberation Sans",
      "labelFontSize": 18,
      "labelColor": "#222222",
      "labelPadding": 3,
      "titleFont": "Liberation Sans",
      "titleFontSize": 20,
      "titleFontWeight": "normal",
      "titleColor": "#1a1a1a",
      "titlePadding": 14
    },
    "legend": {
      "orient": "none",
      "legendX": 28.5,
      "legendY": -118,
      "columns": 4,
      "title": null,
      "symbolType": "M-2.06,-1H2.06V1H-2.06Z",
      "symbolSize": 256,
      "symbolStrokeWidth": 0,
      "symbolOpacity": 1,
      "labelFont": "DejaVu Sans",
      "labelFontSize": 17.7,
      "labelColor": "#111111",
      "labelOffset": 17.5,
      "labelLimit": 0,
      "rowPadding": 1.5,
      "columnPadding": 8.5
    }
  }
}
